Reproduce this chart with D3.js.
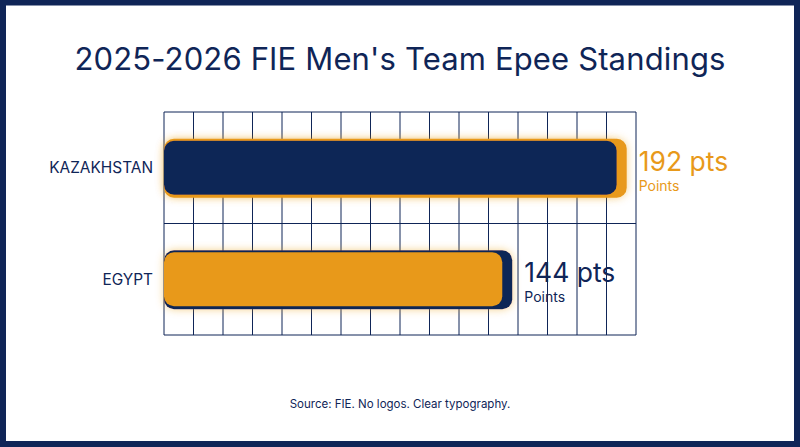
<!DOCTYPE html>
<html><head><meta charset="utf-8">
<script src="https://cdn.jsdelivr.net/npm/d3@7"></script>
<style>html,body{margin:0;padding:0;background:#fff;}svg{display:block;font-family:Inter,"Noto Sans",sans-serif;}</style>
</head><body>
<script>
const categories = ["KAZAKHSTAN", "EGYPT"];
const values = [192, 144];
const valueLabels = ["192 pts", "144 pts"];
const subLabel = "Points";
const title = "2025-2026 FIE Men's Team Epee Standings";
const source = "Source: FIE. No logos. Clear typography.";

(function () {
const W = 800, H = 447;
const navy = "#0f2557", orange = "#e8991a";
const svg = d3.select("body").append("svg").attr("width", W).attr("height", H);

const defs = svg.append("defs");
const f1 = defs.append("filter").attr("id","glowO").attr("x","-10%").attr("y","-50%").attr("width","120%").attr("height","200%");
f1.append("feDropShadow").attr("dx",0).attr("dy",0).attr("stdDeviation",4).attr("flood-color",orange).attr("flood-opacity",0.45);
const f2 = defs.append("filter").attr("id","glowN").attr("x","-10%").attr("y","-50%").attr("width","120%").attr("height","200%");
f2.append("feDropShadow").attr("dx",0).attr("dy",0).attr("stdDeviation",4).attr("flood-color",orange).attr("flood-opacity",0.3);

svg.append("rect").attr("x",3).attr("y",2.5).attr("width",W-6).attr("height",H-5.5)
  .attr("fill","#fff").attr("stroke",navy).attr("stroke-width",6);

svg.append("text").attr("x",400).attr("y",70).attr("text-anchor","middle")
  .attr("font-size",31).attr("letter-spacing",0.15).attr("fill",navy).text(title);

const pLeft = 164, pRight = 636, pTop = 112, pBottom = 335;
const x = d3.scaleLinear().domain([0, 198]).range([pLeft, pRight]);
const y = d3.scaleBand().domain(categories).range([pTop, pBottom]);

const g = svg.append("g");
const cols = d3.range(0, 17).map(i => pLeft + i * (pRight - pLeft) / 16);
g.selectAll("line.v").data(cols).join("line").attr("class","v")
  .attr("x1", d => d).attr("x2", d => d).attr("y1", pTop).attr("y2", pBottom)
  .attr("stroke", navy).attr("stroke-width", 1);
const rows = [pTop, (pTop + pBottom) / 2, pBottom];
g.selectAll("line.h").data(rows).join("line").attr("class","h")
  .attr("x1", pLeft).attr("x2", pRight).attr("y1", d => d).attr("y2", d => d)
  .attr("stroke", navy).attr("stroke-width", 1);

const backCol = [orange, navy], frontCol = [navy, orange];
categories.forEach((c, i) => {
  const yc = y(c) + y.bandwidth() / 2;
  const xe = x(values[i]);
  svg.append("rect").attr("x", pLeft).attr("y", yc - 29).attr("width", xe + 5 - pLeft).attr("height", 59)
    .attr("rx", 10).attr("fill", backCol[i]).attr("filter", "url(#glowO)");
  svg.append("rect").attr("x", pLeft).attr("y", yc - 27).attr("width", xe - 5 - pLeft).attr("height", 54)
    .attr("rx", 10).attr("fill", frontCol[i]).attr("filter", i === 0 ? "url(#glowN)" : null);
  svg.append("text").attr("x", 153).attr("y", yc + 5.5).attr("text-anchor", "end")
    .attr("font-size", 15.4).attr("fill", navy).text(c);
  const lx = xe + 17;
  svg.append("text").attr("x", lx).attr("y", yc + 3).attr("font-size", 26.5)
    .attr("fill", backCol[i]).text(valueLabels[i]);
  svg.append("text").attr("x", lx).attr("y", yc + 23).attr("font-size", 14)
    .attr("fill", backCol[i]).text(subLabel);
});

svg.append("text").attr("x", 400).attr("y", 408).attr("text-anchor", "middle")
  .attr("font-size", 11.5).attr("fill", navy).text(source);
})();
</script>
</body></html>
